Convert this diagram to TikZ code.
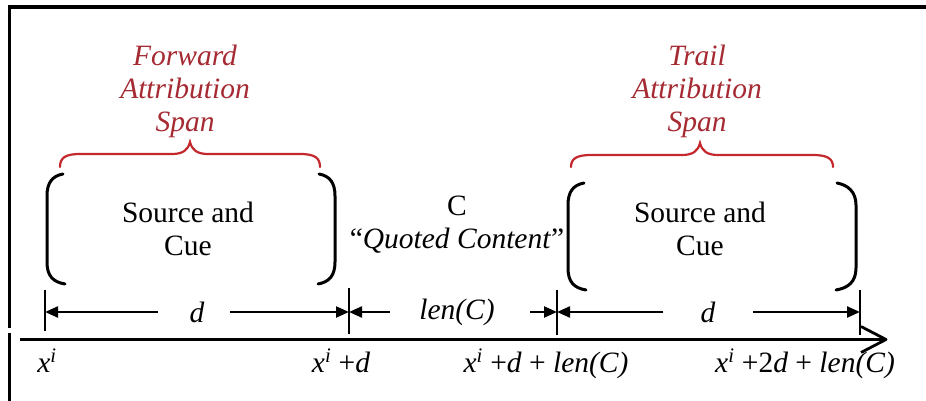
\documentclass[tikz,border=0pt]{standalone}
\usepackage{fontspec}
\setmainfont{LiberationSerif}[Extension=.ttf,UprightFont=*-Regular,ItalicFont=*-Italic,BoldFont=*-Bold,BoldItalicFont=*-BoldItalic]
\usetikzlibrary{arrows.meta,calc}
\definecolor{spanred}{RGB}{165,42,50}
\definecolor{bracered}{RGB}{196,40,45}
\tikzset{
  txt/.style={font=\fontsize{29.5pt}{33pt}\selectfont, inner sep=0pt, align=center},
  redtxt/.style={inner sep=0pt, align=center, text=spanred, font=\fontsize{29.5pt}{33pt}\selectfont\itshape},
  bracket/.style={line width=3pt, line cap=round},
  redbrace/.style={draw=bracered, line width=2.2pt, line cap=round},
  dimarrow/.style={line width=2.3pt, -{Triangle[length=13pt,width=11pt]}},
  tickline/.style={line width=2.6pt},
  axisline/.style={line width=2.8pt, line join=round, line cap=butt},
  lab/.style={font=\fontsize{29.5pt}{33pt}\selectfont, inner sep=0pt, anchor=base},
  frameline/.style={line width=4pt},
}
\newcommand{\xsupi}{\textit{x}\textsuperscript{\textit{i}}}
\begin{document}
\begin{tikzpicture}[x=1pt,y=-1pt]
\useasboundingbox (0,0) rectangle (926,401);
\fill[white] (0,0) rectangle (926,401);

% frame
\coordinate (f0) at (7.5,7);
\coordinate (f1) at (926,7);
\coordinate (f2) at (9.5,328);
\coordinate (f3) at (9.5,333);
\coordinate (f4) at (9.5,401);
\coordinate (f5) at (9.5,5);
\draw[frameline] (f0) -- (f1);
\draw[line width=3.5pt] (f5) -- (f2);
\draw[line width=3.5pt] (f3) -- (f4);

% red labels
\node[redtxt] (fwd) at (185,91) {Forward\\Attribution\\Span};
\node[redtxt] (trl) at (697,91) {Trail\\Attribution\\Span};

% red braces
\draw[redbrace] (60,167) .. controls (60,158) and (65,154) .. (80,154) -- (172,154)
  .. controls (183,154) and (188,150) .. (190,142)
  .. controls (192,150) and (197,154) .. (208,154) -- (300,154)
  .. controls (315,154) and (320,158) .. (320,167);
\draw[redbrace] (571,167) .. controls (571,159) and (576,155) .. (591,155) -- (682,155)
  .. controls (693,155) and (698,151) .. (700,143)
  .. controls (702,151) and (707,155) .. (718,155) -- (813,155)
  .. controls (828,155) and (833,159) .. (833,167);

% black brackets
\draw[bracket] (63,174) .. controls (52,176) and (47,183) .. (47,196) -- (47,262)
  .. controls (47,276) and (53,282) .. (65,284);
\draw[bracket] (319,174) .. controls (330,176) and (335,183) .. (335,196) -- (335,262)
  .. controls (335,276) and (329,282) .. (318,284);
\draw[bracket] (584,183) .. controls (573,185) and (568,192) .. (568,205) -- (568,268)
  .. controls (568,282) and (574,288) .. (586,290);
\draw[bracket] (837,183) .. controls (848,185) and (856,192) .. (856,205) -- (856,268)
  .. controls (856,282) and (848,288) .. (836,290);

% box texts
\node[txt] (sc1) at (188,229) {Source and\\Cue};
\node[txt] (sc2) at (700,229) {Source and\\Cue};
\node[txt] (qc) at (457,225) {C\\“\textit{Quoted Content}”};

% ticks
\coordinate (t0a) at (45,290); \coordinate (t0b) at (45,331);
\coordinate (t1a) at (349,288); \coordinate (t1b) at (349,334);
\coordinate (t2a) at (557,290); \coordinate (t2b) at (557,335);
\coordinate (t3a) at (860,290); \coordinate (t3b) at (860,335);
\draw[tickline] (t0a) -- (t0b);
\draw[tickline] (t1a) -- (t1b);
\draw[tickline] (t2a) -- (t2b);
\draw[tickline] (t3a) -- (t3b);

% dimension arrows
\coordinate (m0) at (45,312);
\coordinate (m1) at (349,312);
\coordinate (m2) at (557,312);
\coordinate (m3) at (860,312);
\node[lab, anchor=center] (d1) at (197,312) {\textit{d}};
\node[lab, anchor=center] (lc) at (457,312) {\textit{len(C)}};
\node[lab, anchor=center] (d2) at (708,312) {\textit{d}};
\coordinate (d1l) at (158,312); \coordinate (d1r) at (230,312);
\coordinate (lcl) at (390,312); \coordinate (lcr) at (530,312);
\coordinate (d2l) at (663,312); \coordinate (d2r) at (753,312);
\draw[dimarrow] (d1l) -- (m0);
\draw[dimarrow] (d1r) -- (m1);
\draw[dimarrow] (lcl) -- (m1);
\draw[dimarrow] (lcr) -- (m2);
\draw[dimarrow] (d2l) -- (m2);
\draw[dimarrow] (d2r) -- (m3);

% axis
\coordinate (ax0) at (20,339.5);
\coordinate (ax1) at (886,339.5);
\draw[axisline] (ax0) -- (ax1);
\draw[axisline] ($(ax1)+(-25,-13)$) -- (ax1) -- ($(ax1)+(-25,13)$);

% axis labels
\node[lab] (l0) at (47,372) {\xsupi};
\node[lab] (l1) at (341,372) {\xsupi{} +\textit{d}};
\node[lab] (l2) at (546,372) {\xsupi{} +\textit{d} + \textit{len(C)}};
\node[lab] (l3) at (805,372) {\xsupi{} +2\textit{d} + \textit{len(C)}};
\end{tikzpicture}
\end{document}
